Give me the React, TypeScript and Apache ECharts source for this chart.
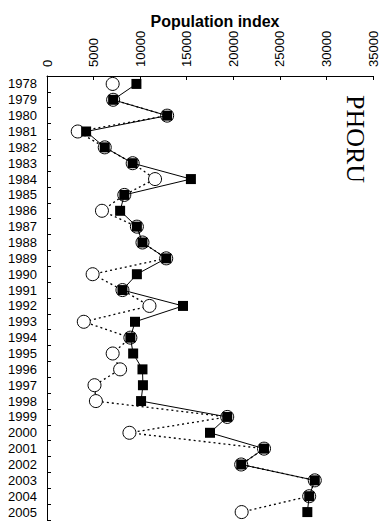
import React, { useEffect, useRef } from "react";
import * as echarts from "echarts";

const years: string[] = [
  "1978", "1979", "1980", "1981", "1982", "1983", "1984", "1985", "1986", "1987",
  "1988", "1989", "1990", "1991", "1992", "1993", "1994", "1995", "1996", "1997",
  "1998", "1999", "2000", "2001", "2002", "2003", "2004", "2005",
];

// filled squares, solid line
const indexSolid: number[] = [
  9600, 7100, 12900, 4200, 6200, 9200, 15450, 8300, 7850, 9650,
  10250, 12800, 9650, 8100, 14600, 9450, 8950, 9250, 10250, 10300,
  10100, 19350, 17500, 23300, 20850, 28750, 28150, 27950,
];

// open circles, dotted line
const indexDotted: number[] = [
  7050, 7100, 12900, 3300, 6200, 9200, 11600, 8300, 5900, 9650,
  10250, 12800, 4900, 8100, 11000, 3950, 8950, 7050, 7850, 5100,
  5250, 19350, 8850, 23300, 20850, 28750, 28150, 20900,
];

const xTicks = { min: 0, max: 35000, interval: 5000 };

export default function App() {
  const ref = useRef<HTMLDivElement>(null);

  useEffect(() => {
    if (!ref.current) return;
    const chart = echarts.init(ref.current, undefined, { renderer: "svg" });
    const font = "Liberation Sans, Arial, sans-serif";
    chart.setOption({
      animation: false,
      backgroundColor: "#ffffff",
      title: {
        text: "Population index",
        left: 210,
        top: 8,
        textAlign: "center",
        textStyle: { fontFamily: font, fontSize: 16, fontWeight: "bold", color: "#000" },
      },
      grid: { left: 47, top: 76, width: 326, height: 444, containLabel: false },
      xAxis: {
        type: "value",
        position: "top",
        min: xTicks.min,
        max: xTicks.max,
        interval: xTicks.interval,
        splitLine: { show: false },
        axisLine: { show: true, lineStyle: { color: "#000", width: 1 } },
        axisTick: { show: true, inside: true, length: 4, lineStyle: { color: "#000" } },
        axisLabel: {
          rotate: -90,
          margin: 9,
          fontFamily: font,
          fontSize: 13,
          color: "#000",
          formatter: (v: number) => String(v),
        },
      },
      yAxis: {
        type: "category",
        data: years,
        inverse: true,
        boundaryGap: true,
        axisLine: { show: true, onZero: false, lineStyle: { color: "#000", width: 1 } },
        axisTick: { show: true, inside: true, length: 4, interval: 0, lineStyle: { color: "#000" } },
        axisLabel: { interval: 0, margin: 10, fontFamily: font, fontSize: 13, color: "#000" },
        splitLine: { show: false },
      },
      graphic: [
        {
          type: "text",
          x: 355,
          y: 139,
          rotation: -Math.PI / 2,
          style: {
            text: "PHORU",
            fontFamily: "Liberation Serif, Times New Roman, serif",
            fontSize: 26,
            fill: "#000",
            textAlign: "center",
            textVerticalAlign: "middle",
          },
        },
      ],
      series: [
        {
          type: "line",
          data: indexDotted,
          symbol: "circle",
          symbolSize: 13,
          lineStyle: { color: "#000", width: 1.3, type: [2, 3] },
          itemStyle: { color: "#fff", borderColor: "#000", borderWidth: 1 },
          z: 2,
        },
        {
          type: "line",
          data: indexSolid,
          symbol: "rect",
          symbolSize: 10,
          lineStyle: { color: "#000", width: 1 },
          itemStyle: { color: "#000", borderColor: "#000", borderWidth: 0 },
          z: 3,
        },
      ],
    });
    return () => chart.dispose();
  }, []);

  return (
    <div
      ref={ref}
      style={{ position: "fixed", left: 0, top: 0, width: 389, height: 521, background: "#fff" }}
    />
  );
}
